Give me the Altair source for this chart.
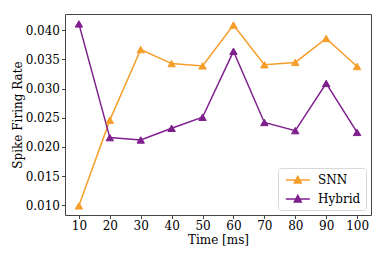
import altair as alt
import pandas as pd

times = [10, 20, 30, 40, 50, 60, 70, 80, 90, 100]
snn = [0.0099, 0.0246, 0.0367, 0.0343, 0.0339, 0.0409, 0.0341, 0.0345, 0.0386, 0.0338]
hybrid = [0.0411, 0.0216, 0.0212, 0.0232, 0.0251, 0.0364, 0.0242, 0.0228, 0.0309, 0.0225]
series = ["SNN", "Hybrid"]
colors = ["#f59e2a", "#7f1f8e"]
y_ticks = [0.010, 0.015, 0.020, 0.025, 0.030, 0.035, 0.040]

rows = []
for t, a, b in zip(times, snn, hybrid):
    rows.append({"time": t, "rate": a, "model": "SNN"})
    rows.append({"time": t, "rate": b, "model": "Hybrid"})
df = pd.DataFrame(rows)

FONT = "DejaVu Serif"

legend = alt.Legend(
    title=None,
    orient="bottom-right",
    offset=5,
    fillColor="white",
    strokeColor="#d9d9d9",
    cornerRadius=3,
    padding=5,
    labelFont=FONT,
    labelFontSize=12,
    labelColor="black",
    symbolType="M-0.7,0H3.3M0.73,0.48L1.3,-0.6L1.87,0.48Z",
    symbolSize=144,
    symbolStrokeWidth=1.5,
    symbolOpacity=1,
    labelOffset=21,
    rowPadding=6,
)

cscale = alt.Scale(domain=series, range=colors)
x_enc = alt.X(
    "time:Q",
    scale=alt.Scale(domain=[5.5, 104.5], nice=False, zero=False),
    axis=alt.Axis(values=times, title="Time [ms]", format="d"),
)
y_enc = alt.Y(
    "rate:Q",
    scale=alt.Scale(domain=[0.00833, 0.0428], nice=False, zero=False),
    axis=alt.Axis(values=y_ticks, title="Spike Firing Rate", format=".3f"),
)

base = alt.Chart(df)
lines = base.mark_line(strokeWidth=1.5).encode(
    x=x_enc,
    y=y_enc,
    stroke=alt.Stroke("model:N", scale=cscale, sort=series, legend=legend),
    order=alt.Order("time:Q"),
)
points = base.mark_point(shape="triangle-up", size=55, opacity=1, strokeWidth=1).encode(
    x=x_enc,
    y=y_enc,
    stroke=alt.Stroke("model:N", scale=cscale, sort=series, legend=legend),
    fill=alt.Fill("model:N", scale=cscale, sort=series, legend=legend),
)

chart = (
    alt.layer(lines, points)
    .properties(
        width=306,
        height=201,
        autosize=alt.AutoSizeParams(type="none"),
        padding={"left": 57, "top": 6, "right": 5, "bottom": 36},
    )
    .configure_view(stroke="#444444", strokeWidth=1)
    .configure_axis(
        grid=False,
        domain=False,
        ticks=True,
        tickColor="#444444",
        tickSize=3.5,
        labelFont=FONT,
        labelFontSize=12,
        labelColor="black",
        labelPadding=2,
        titleFont=FONT,
        titleFontSize=12,
        titleFontWeight="normal",
        titleColor="black",
    )
    .configure_axisY(titlePadding=1)
    .configure_axisX(titlePadding=3)
)

chart.save("out.html", embed_options={"renderer": "svg", "actions": False})
